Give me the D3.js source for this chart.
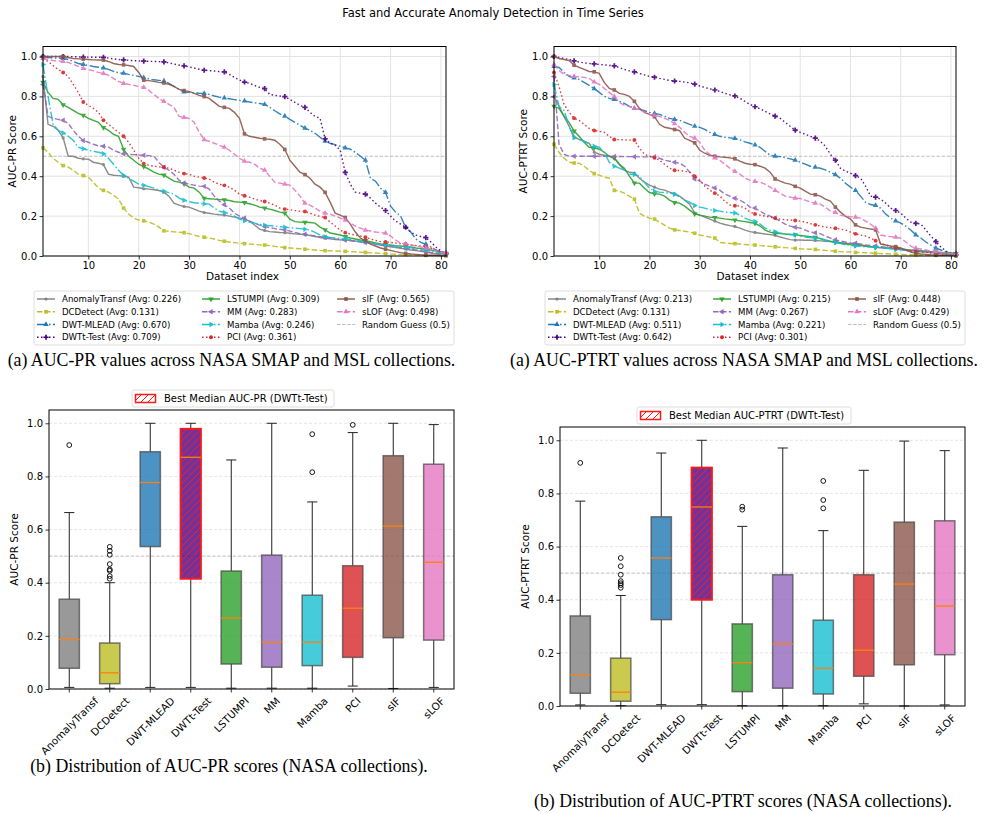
<!DOCTYPE html>
<html>
<head>
<meta charset="utf-8">
<script src="https://cdn.jsdelivr.net/npm/d3@7"></script>
<style>
  body { margin: 0; background: #fff; }
  svg text { font-family: "DejaVu Sans", sans-serif; fill: #000; }
  svg text.caption { font-family: "Liberation Serif", "Times New Roman", serif; }
</style>
</head>
<body>
<svg id="fig" width="986" height="813"></svg>
<script>
// ---------- Data ----------
var methods = ["AnomalyTransf", "DCDetect", "DWT-MLEAD", "DWTt-Test", "LSTUMPI",
  "MM", "Mamba", "PCI", "sIF", "sLOF"];

var xTickValues = [10, 20, 30, 40, 50, 60, 70, 80];
var yTickValues = [0, 0.2, 0.4, 0.6, 0.8, 1.0];
var randomGuess = 0.5;

// average scores shown in the legends
var prAvg = [0.226, 0.131, 0.670, 0.709, 0.309, 0.283, 0.246, 0.361, 0.565, 0.498];
var ptAvg = [0.213, 0.131, 0.511, 0.642, 0.215, 0.267, 0.221, 0.301, 0.448, 0.429];

// AUC-PR per dataset, sorted descending (81 datasets)
var prAnomalyTransf = [0.9,0.66,0.65,0.63, 0.592,0.5,0.5,0.49, 0.487,0.485,0.47,0.465,
  0.458,0.41,0.405,0.403, 0.4,0.395,0.345,0.342, 0.337,0.335,0.332,0.328, 0.32,0.3,0.265,0.255,
  0.248,0.245,0.235,0.225, 0.218,0.214,0.21,0.207, 0.205,0.2,0.195,0.19, 0.185,0.175,0.155,0.135,
  0.128,0.122,0.12,0.118, 0.117,0.114,0.111,0.109, 0.107,0.103,0.098,0.093, 0.089,0.086,0.083,0.081,
  0.08,0.078,0.075,0.072, 0.07,0.066,0.06,0.055, 0.05,0.046,0.042,0.038, 0.035,0.03,0.027,0.023,
  0.02,0.015,0.01,0.007, 0.005];
var prDCDetect = [0.542,0.52,0.49,0.47, 0.453,0.445,0.43,0.41, 0.403,0.395,0.37,0.34,
  0.329,0.32,0.305,0.285, 0.24,0.21,0.19,0.18, 0.176,0.17,0.16,0.145, 0.126,0.124,0.121,0.119,
  0.117,0.112,0.105,0.098, 0.094,0.09,0.085,0.078, 0.074,0.07,0.067,0.064, 0.062,0.06,0.058,0.056,
  0.055,0.052,0.048,0.045, 0.042,0.04,0.038,0.036, 0.034,0.032,0.03,0.028, 0.027,0.026,0.025,0.024,
  0.023,0.022,0.02,0.019, 0.018,0.016,0.015,0.013, 0.012,0.01,0.009,0.008, 0.007,0.006,0.005,0.004,
  0.003,0.003,0.002,0.002, 0.002];
var prDWTMLEAD = [1.0,0.995,0.993,0.992, 0.99,0.985,0.975,0.965, 0.96,0.955,0.95,0.946,
  0.943,0.935,0.925,0.918, 0.916,0.91,0.905,0.9, 0.894,0.888,0.883,0.88, 0.877,0.865,0.85,0.835,
  0.822,0.82,0.818,0.816, 0.815,0.81,0.802,0.796, 0.792,0.788,0.784,0.78, 0.777,0.772,0.768,0.764,
  0.76,0.745,0.728,0.712, 0.701,0.685,0.67,0.655, 0.641,0.63,0.615,0.595, 0.576,0.565,0.558,0.55,
  0.542,0.535,0.52,0.5, 0.48,0.39,0.375,0.34, 0.319,0.25,0.22,0.2, 0.143,0.12,0.085,0.068,
  0.059,0.045,0.03,0.02, 0.013];
var prDWTtTest = [1.0,1.0,1.0,1.0, 1.0,1.0,0.999,0.998, 0.997,0.997,0.996,0.996,
  0.996,0.992,0.988,0.985, 0.983,0.981,0.979,0.978, 0.977,0.976,0.975,0.974, 0.973,0.968,0.962,0.957,
  0.953,0.948,0.942,0.936, 0.931,0.929,0.927,0.925, 0.923,0.91,0.895,0.882, 0.872,0.865,0.855,0.845,
  0.839,0.81,0.805,0.802, 0.799,0.785,0.77,0.755, 0.745,0.72,0.7,0.69, 0.587,0.565,0.555,0.53,
  0.419,0.36,0.32,0.315, 0.31,0.29,0.265,0.245, 0.228,0.2,0.175,0.16, 0.144,0.12,0.105,0.098,
  0.092,0.07,0.045,0.025, 0.013];
var prLSTUMPI = [0.87,0.82,0.79,0.785, 0.758,0.745,0.73,0.715, 0.705,0.69,0.68,0.67,
  0.643,0.63,0.61,0.6, 0.534,0.5,0.48,0.46, 0.448,0.435,0.42,0.41, 0.406,0.39,0.375,0.37,
  0.362,0.345,0.34,0.32, 0.289,0.287,0.285,0.283, 0.282,0.278,0.272,0.27, 0.268,0.262,0.255,0.245,
  0.24,0.235,0.228,0.22, 0.215,0.185,0.172,0.17, 0.169,0.168,0.165,0.145, 0.131,0.115,0.11,0.105,
  0.097,0.09,0.085,0.08, 0.077,0.072,0.065,0.06, 0.057,0.055,0.052,0.05, 0.047,0.045,0.04,0.037,
  0.034,0.03,0.025,0.02, 0.013];
var prMM = [0.86,0.7,0.69,0.685, 0.68,0.665,0.63,0.6, 0.579,0.57,0.56,0.552,
  0.55,0.545,0.53,0.52, 0.513,0.51,0.508,0.506, 0.505,0.503,0.5,0.47, 0.445,0.43,0.41,0.38,
  0.366,0.36,0.355,0.35, 0.349,0.335,0.3,0.275, 0.257,0.24,0.215,0.2, 0.19,0.175,0.165,0.155,
  0.148,0.142,0.137,0.134, 0.131,0.125,0.118,0.112, 0.109,0.105,0.1,0.097, 0.094,0.09,0.086,0.083,
  0.08,0.077,0.073,0.07, 0.067,0.064,0.061,0.058, 0.054,0.05,0.046,0.042, 0.039,0.035,0.03,0.026,
  0.022,0.018,0.014,0.011, 0.008];
var prMamba = [0.96,0.8,0.66,0.63, 0.617,0.6,0.58,0.545, 0.537,0.53,0.525,0.52,
  0.513,0.49,0.46,0.43, 0.403,0.39,0.375,0.36, 0.354,0.348,0.34,0.33, 0.324,0.318,0.31,0.29,
  0.279,0.272,0.267,0.264, 0.262,0.26,0.24,0.225, 0.218,0.212,0.2,0.185, 0.176,0.17,0.165,0.158,
  0.154,0.152,0.15,0.147, 0.144,0.142,0.14,0.137, 0.134,0.13,0.118,0.105, 0.097,0.093,0.09,0.088,
  0.086,0.082,0.078,0.074, 0.07,0.066,0.062,0.058, 0.055,0.052,0.049,0.046, 0.044,0.041,0.037,0.033,
  0.03,0.026,0.02,0.015, 0.01];
var prPCI = [0.99,0.975,0.955,0.935, 0.92,0.9,0.86,0.82, 0.772,0.755,0.74,0.72,
  0.68,0.66,0.64,0.62, 0.6,0.57,0.53,0.49, 0.463,0.455,0.45,0.447, 0.445,0.44,0.43,0.42,
  0.413,0.41,0.4,0.395, 0.391,0.385,0.37,0.36, 0.354,0.345,0.33,0.31, 0.302,0.295,0.285,0.278,
  0.273,0.265,0.255,0.24, 0.235,0.232,0.228,0.225, 0.223,0.215,0.205,0.198, 0.193,0.17,0.15,0.13,
  0.117,0.11,0.105,0.1, 0.094,0.085,0.078,0.072, 0.07,0.068,0.065,0.062, 0.06,0.055,0.052,0.05,
  0.047,0.04,0.03,0.02, 0.013];
var prSIF = [1.0,1.0,1.0,1.0, 1.0,0.995,0.99,0.988, 0.987,0.985,0.983,0.982,
  0.982,0.975,0.965,0.96, 0.958,0.955,0.95,0.92, 0.881,0.879,0.875,0.87, 0.867,0.86,0.85,0.835,
  0.829,0.825,0.815,0.805, 0.799,0.79,0.77,0.75, 0.745,0.74,0.72,0.69, 0.612,0.6,0.595,0.59,
  0.587,0.585,0.58,0.56, 0.534,0.48,0.45,0.42, 0.408,0.39,0.36,0.345, 0.319,0.27,0.215,0.205,
  0.193,0.16,0.12,0.09, 0.076,0.06,0.05,0.04, 0.034,0.028,0.022,0.017, 0.013,0.01,0.008,0.006,
  0.005,0.004,0.003,0.002, 0.002];
var prSLOF = [0.99,0.985,0.98,0.978, 0.975,0.97,0.96,0.95, 0.94,0.935,0.928,0.92,
  0.915,0.905,0.89,0.875, 0.865,0.86,0.855,0.85, 0.845,0.83,0.81,0.79, 0.775,0.76,0.745,0.7,
  0.695,0.69,0.67,0.62, 0.583,0.575,0.565,0.555, 0.545,0.53,0.51,0.49, 0.475,0.47,0.46,0.44,
  0.43,0.4,0.37,0.365, 0.36,0.355,0.33,0.3, 0.265,0.255,0.24,0.225, 0.215,0.21,0.2,0.19,
  0.18,0.165,0.15,0.14, 0.13,0.125,0.12,0.118, 0.115,0.1,0.08,0.065, 0.06,0.055,0.05,0.045,
  0.04,0.035,0.028,0.02, 0.015];

// AUC-PTRT per dataset, sorted descending
var ptAnomalyTransf = [0.8,0.75,0.7,0.65, 0.597,0.585,0.575,0.565, 0.52,0.51,0.505,0.5,
  0.49,0.46,0.43,0.42, 0.416,0.39,0.37,0.355, 0.345,0.335,0.33,0.32, 0.312,0.3,0.28,0.26,
  0.215,0.205,0.195,0.185, 0.175,0.165,0.158,0.152, 0.148,0.14,0.13,0.122, 0.118,0.114,0.11,0.107,
  0.104,0.095,0.088,0.082, 0.08,0.08,0.079,0.079, 0.078,0.076,0.074,0.072, 0.07,0.067,0.064,0.062,
  0.06,0.056,0.052,0.048, 0.045,0.042,0.04,0.037, 0.035,0.032,0.03,0.027, 0.025,0.022,0.02,0.017,
  0.015,0.012,0.01,0.008, 0.005];
var ptDCDetect = [0.56,0.52,0.49,0.47, 0.466,0.465,0.45,0.43, 0.413,0.405,0.395,0.39,
  0.329,0.325,0.315,0.3, 0.285,0.215,0.2,0.19, 0.185,0.17,0.155,0.14, 0.131,0.128,0.124,0.12,
  0.114,0.105,0.1,0.095, 0.09,0.068,0.065,0.063, 0.062,0.06,0.058,0.056, 0.055,0.052,0.05,0.048,
  0.046,0.044,0.042,0.04, 0.038,0.036,0.035,0.034, 0.033,0.03,0.028,0.026, 0.024,0.022,0.021,0.02,
  0.018,0.017,0.016,0.015, 0.014,0.012,0.011,0.01, 0.009,0.008,0.007,0.006, 0.005,0.004,0.004,0.004,
  0.003,0.003,0.003,0.002, 0.002];
var ptDWTMLEAD = [0.95,0.945,0.92,0.9, 0.893,0.885,0.87,0.855, 0.839,0.82,0.8,0.79,
  0.785,0.775,0.765,0.75, 0.74,0.735,0.728,0.72, 0.715,0.71,0.7,0.69, 0.685,0.68,0.67,0.66,
  0.651,0.645,0.635,0.62, 0.609,0.6,0.595,0.592, 0.589,0.582,0.572,0.565, 0.557,0.545,0.525,0.505,
  0.5,0.498,0.493,0.487, 0.48,0.47,0.46,0.45, 0.445,0.44,0.432,0.42, 0.408,0.39,0.365,0.345,
  0.329,0.3,0.27,0.258, 0.253,0.24,0.21,0.19, 0.176,0.165,0.15,0.13, 0.106,0.09,0.07,0.055,
  0.039,0.03,0.02,0.015, 0.013];
var ptDWTtTest = [1.0,0.995,0.99,0.985, 0.978,0.972,0.968,0.965, 0.963,0.96,0.958,0.955,
  0.953,0.945,0.935,0.928, 0.923,0.915,0.908,0.9, 0.896,0.89,0.885,0.88, 0.877,0.875,0.872,0.868,
  0.861,0.852,0.845,0.838, 0.832,0.825,0.815,0.808, 0.802,0.79,0.775,0.76, 0.748,0.738,0.725,0.712,
  0.701,0.69,0.67,0.65, 0.631,0.62,0.61,0.6, 0.591,0.575,0.55,0.51, 0.48,0.44,0.425,0.415,
  0.403,0.39,0.35,0.3, 0.295,0.285,0.265,0.24, 0.228,0.215,0.19,0.17, 0.164,0.16,0.13,0.1,
  0.072,0.045,0.025,0.012, 0.005];
var ptLSTUMPI = [0.75,0.74,0.7,0.67, 0.626,0.6,0.57,0.545, 0.542,0.535,0.52,0.5,
  0.492,0.46,0.44,0.4, 0.366,0.365,0.34,0.318, 0.312,0.31,0.3,0.28, 0.268,0.265,0.25,0.23,
  0.211,0.205,0.2,0.195, 0.193,0.19,0.186,0.183, 0.18,0.176,0.172,0.168, 0.164,0.15,0.13,0.12,
  0.114,0.112,0.11,0.108, 0.106,0.103,0.1,0.097, 0.094,0.088,0.08,0.074, 0.07,0.065,0.06,0.057,
  0.055,0.052,0.049,0.046, 0.044,0.042,0.04,0.038, 0.036,0.034,0.032,0.03, 0.028,0.026,0.024,0.022,
  0.02,0.018,0.016,0.014, 0.012];
var ptMM = [0.9,0.56,0.51,0.5, 0.5,0.5,0.5,0.5, 0.5,0.5,0.5,0.499,
  0.499,0.499,0.498,0.498, 0.498,0.497,0.497,0.497, 0.497,0.49,0.48,0.475, 0.47,0.465,0.45,0.42,
  0.386,0.375,0.36,0.35, 0.341,0.33,0.31,0.3, 0.29,0.28,0.265,0.245, 0.24,0.225,0.21,0.2,
  0.19,0.175,0.16,0.15, 0.144,0.14,0.13,0.12, 0.117,0.112,0.1,0.09, 0.081,0.075,0.07,0.066,
  0.064,0.06,0.056,0.053, 0.05,0.047,0.044,0.041, 0.039,0.036,0.033,0.03, 0.027,0.024,0.022,0.02,
  0.018,0.015,0.01,0.007, 0.005];
var ptMamba = [0.86,0.75,0.73,0.65, 0.592,0.585,0.575,0.56, 0.55,0.545,0.52,0.47,
  0.45,0.44,0.43,0.41, 0.408,0.4,0.37,0.34, 0.324,0.32,0.318,0.315, 0.31,0.295,0.28,0.27,
  0.253,0.245,0.24,0.232, 0.228,0.225,0.22,0.218, 0.215,0.205,0.19,0.18, 0.173,0.16,0.14,0.13,
  0.122,0.115,0.11,0.108, 0.106,0.1,0.095,0.092, 0.089,0.085,0.078,0.072, 0.067,0.062,0.057,0.053,
  0.05,0.048,0.046,0.045, 0.044,0.041,0.039,0.036, 0.034,0.031,0.028,0.025, 0.023,0.021,0.02,0.018,
  0.017,0.014,0.01,0.007, 0.005];
var ptPCI = [0.92,0.85,0.76,0.72, 0.691,0.68,0.66,0.64, 0.629,0.625,0.62,0.6,
  0.584,0.583,0.582,0.581, 0.581,0.54,0.51,0.5, 0.492,0.48,0.46,0.44, 0.43,0.428,0.425,0.42,
  0.4,0.38,0.35,0.33, 0.315,0.3,0.275,0.255, 0.252,0.25,0.24,0.22, 0.211,0.205,0.2,0.195,
  0.19,0.185,0.182,0.18, 0.178,0.175,0.17,0.162, 0.156,0.15,0.145,0.142, 0.139,0.135,0.13,0.12,
  0.111,0.105,0.1,0.09, 0.077,0.065,0.055,0.045, 0.04,0.035,0.03,0.025, 0.022,0.02,0.018,0.015,
  0.013,0.01,0.008,0.006, 0.005];
var ptSIF = [1.0,0.99,0.985,0.98, 0.956,0.945,0.935,0.925, 0.923,0.915,0.87,0.84,
  0.832,0.815,0.81,0.8, 0.775,0.74,0.72,0.71, 0.698,0.66,0.645,0.64, 0.634,0.628,0.59,0.58,
  0.567,0.53,0.515,0.505, 0.5,0.497,0.495,0.492, 0.487,0.475,0.465,0.46, 0.458,0.45,0.44,0.42,
  0.386,0.375,0.365,0.36, 0.349,0.34,0.325,0.31, 0.307,0.3,0.285,0.275, 0.245,0.22,0.2,0.185,
  0.156,0.145,0.14,0.135, 0.131,0.06,0.055,0.05, 0.047,0.04,0.03,0.02, 0.013,0.01,0.008,0.006,
  0.005,0.004,0.003,0.003, 0.003];
var ptSLOF = [0.96,0.93,0.91,0.905, 0.9,0.898,0.895,0.89, 0.872,0.86,0.84,0.82,
  0.8,0.77,0.755,0.75, 0.74,0.735,0.72,0.71, 0.705,0.7,0.69,0.68, 0.663,0.645,0.62,0.6,
  0.591,0.57,0.53,0.51, 0.492,0.48,0.46,0.44, 0.424,0.41,0.39,0.38, 0.374,0.37,0.36,0.345,
  0.329,0.315,0.3,0.295, 0.29,0.288,0.28,0.27, 0.265,0.26,0.245,0.225, 0.218,0.205,0.2,0.197,
  0.195,0.19,0.175,0.16, 0.139,0.105,0.1,0.097, 0.094,0.09,0.07,0.05, 0.039,0.035,0.03,0.025,
  0.022,0.018,0.015,0.012, 0.01];

// Box plot statistics (AUC-PR)
var prWhiskLo = [0.006, 0.003, 0.006, 0.006, 0.003, 0.003, 0.003, 0.011, 0.002, 0.006];
var prQ1      = [0.078, 0.020, 0.536, 0.415, 0.094, 0.082, 0.088, 0.119, 0.193, 0.184];
var prMedian  = [0.186, 0.061, 0.777, 0.872, 0.267, 0.176, 0.176, 0.304, 0.613, 0.477];
var prQ3      = [0.338, 0.173, 0.893, 0.979, 0.444, 0.504, 0.353, 0.464, 0.878, 0.846];
var prWhiskHi = [0.664, 0.400, 1.000, 1.000, 0.862, 1.000, 0.704, 0.965, 1.000, 0.995];
var prOutliers = [[0.918], [0.535, 0.52, 0.505, 0.47, 0.45, 0.445, 0.425, 0.415], [], [], [], [],
  [0.959, 0.816], [0.994], [], []];

// Box plot statistics (AUC-PTRT)
var ptWhiskLo = [0.004, 0.001, 0.005, 0.005, 0.001, 0.001, 0.001, 0.008, 0.000, 0.004];
var ptQ1      = [0.048, 0.018, 0.325, 0.400, 0.054, 0.067, 0.045, 0.112, 0.155, 0.193];
var ptMedian  = [0.117, 0.052, 0.557, 0.749, 0.163, 0.234, 0.142, 0.210, 0.459, 0.376];
var ptQ3      = [0.339, 0.180, 0.712, 0.897, 0.309, 0.494, 0.323, 0.494, 0.692, 0.697];
var ptWhiskHi = [0.771, 0.416, 0.952, 1.000, 0.676, 0.971, 0.660, 0.887, 0.997, 0.961];
var ptOutliers = [[0.915], [0.557, 0.526, 0.494, 0.47, 0.462, 0.455, 0.445], [], [], [0.75, 0.739], [],
  [0.847, 0.775, 0.744], [], [], []];

var prSeries = [prAnomalyTransf, prDCDetect, prDWTMLEAD, prDWTtTest, prLSTUMPI, prMM, prMamba, prPCI, prSIF, prSLOF];
var ptSeries = [ptAnomalyTransf, ptDCDetect, ptDWTMLEAD, ptDWTtTest, ptLSTUMPI, ptMM, ptMamba, ptPCI, ptSIF, ptSLOF];

// ---------- Styles ----------
var colors = ["#7f7f7f", "#bcbd22", "#1f77b4", "#4b0082", "#2ca02c", "#9467bd", "#17becf", "#d62728", "#8c564b", "#e377c2"];
var dashes = ["", "5.5,2.4", "9.6,2.4,1.5,2.4", "1.5,2.5", "", "5.5,2.4", "9.6,2.4,1.5,2.4", "1.5,2.5", "", "5.5,2.4"];
var symbols = [d3.symbolCircle, d3.symbolSquare, d3.symbolTriangle, d3.symbolCross, d3.symbolTriangle,
  d3.symbolTriangle, d3.symbolTriangle, d3.symbolCircle, d3.symbolSquare, d3.symbolTriangle];
var symbolRotate = [0, 0, 0, 0, 180, -90, 90, 0, 0, 0];
var symbolSize = [8, 13, 13, 15, 13, 13, 13, 12, 13, 13];

var svg = d3.select("#fig");

// Figure title
svg.append("text")
  .attr("x", 493)
  .attr("y", 17)
  .attr("text-anchor", "middle")
  .attr("font-size", 11.5)
  .text("Fast and Accurate Anomaly Detection in Time Series");

function addMarker(sel, i, x, y) {
  sel.append("path")
    .attr("d", d3.symbol().type(symbols[i]).size(symbolSize[i])())
    .attr("transform", `translate(${x},${y}) rotate(${symbolRotate[i]})`)
    .attr("fill", colors[i]);
}

// ---------- Line panels ----------
function drawLinePanel(box, series, avgs, yLabel, legendBox) {
  var g = svg.append("g");
  var x = d3.scaleLinear().domain([1, 81]).range([box.x0, box.x1]);
  var y = d3.scaleLinear().domain([0, 1.05]).range([box.y1, box.y0]);

  // grid
  g.append("g").selectAll("line").data(xTickValues).enter().append("line")
    .attr("x1", d => x(d)).attr("x2", d => x(d))
    .attr("y1", box.y0).attr("y2", box.y1)
    .attr("stroke", "#e3e3e3").attr("stroke-width", 1);
  g.append("g").selectAll("line").data(yTickValues).enter().append("line")
    .attr("x1", box.x0).attr("x2", box.x1)
    .attr("y1", d => y(d)).attr("y2", d => y(d))
    .attr("stroke", "#e3e3e3").attr("stroke-width", 1);

  // random guess
  g.append("line")
    .attr("x1", box.x0).attr("x2", box.x1)
    .attr("y1", y(randomGuess)).attr("y2", y(randomGuess))
    .attr("stroke", "#b5b5b5").attr("stroke-width", 0.9)
    .attr("stroke-dasharray", "3.5,1.6");

  // lines + markers (every 4th point)
  var line = d3.line().x((d, i) => x(i + 1)).y(d => y(d));
  series.forEach(function(vals, k) {
    var s = g.append("g").attr("opacity", 0.9);
    s.append("path")
      .attr("d", line(vals))
      .attr("fill", "none")
      .attr("stroke", colors[k])
      .attr("stroke-width", 1.4)
      .attr("stroke-dasharray", dashes[k]);
    vals.forEach(function(v, i) {
      if (i % 4 === 0) addMarker(s, k, x(i + 1), y(v));
    });
  });

  // axes
  var bottomAxis = d3.axisBottom(x).tickValues(xTickValues).tickSizeOuter(0).tickSize(3.5).tickPadding(2.5);
  var leftAxis = d3.axisLeft(y).tickValues(yTickValues).tickFormat(d3.format(".1f")).tickSizeOuter(0).tickSize(3.5).tickPadding(2.5);
  var xa = g.append("g").attr("transform", `translate(0, ${box.y1})`).call(bottomAxis);
  var ya = g.append("g").attr("transform", `translate(${box.x0}, 0)`).call(leftAxis);
  [xa, ya].forEach(function(a) {
    a.select(".domain").remove();
    a.selectAll("text").attr("font-size", 10);
    a.selectAll("line").attr("stroke", "#000").attr("stroke-width", 0.8);
  });

  // frame
  g.append("rect")
    .attr("x", box.x0).attr("y", box.y0)
    .attr("width", box.x1 - box.x0).attr("height", box.y1 - box.y0)
    .attr("fill", "none").attr("stroke", "#000").attr("stroke-width", 1);

  // axis labels
  g.append("text")
    .attr("x", (box.x0 + box.x1) / 2 - 2)
    .attr("y", box.y1 + 24)
    .attr("text-anchor", "middle")
    .attr("font-size", 10.5)
    .text("Dataset index");
  g.append("text")
    .attr("transform", `translate(${box.x0 - 27}, ${(box.y0 + box.y1) / 2}) rotate(-90)`)
    .attr("text-anchor", "middle")
    .attr("font-size", 10.5)
    .text(yLabel);

  // legend
  var lg = g.append("g").attr("transform", `translate(${legendBox.x}, ${legendBox.y})`);
  lg.append("rect")
    .attr("width", legendBox.w).attr("height", legendBox.h)
    .attr("rx", 2)
    .attr("fill", "#fff").attr("stroke", "#d6d6d6").attr("stroke-width", 0.8);
  var items = methods.map((m, k) => ({ k: k, label: `${m} (Avg: ${avgs[k].toFixed(3)})` }));
  items.push({ k: -1, label: "Random Guess (0.5)" });
  var colX = [3, 168, 303];
  items.forEach(function(it, n) {
    var col = Math.floor(n / 4), row = n % 4;
    var ly = 8 + row * 12.75;
    var lx = colX[col];
    if (it.k >= 0) {
      lg.append("line")
        .attr("x1", lx).attr("x2", lx + 18)
        .attr("y1", ly).attr("y2", ly)
        .attr("stroke", colors[it.k]).attr("stroke-width", 1.4)
        .attr("stroke-dasharray", dashes[it.k]);
      addMarker(lg, it.k, lx + 9, ly);
    } else {
      lg.append("line")
        .attr("x1", lx).attr("x2", lx + 18)
        .attr("y1", ly).attr("y2", ly)
        .attr("stroke", "#b5b5b5").attr("stroke-width", 0.9)
        .attr("stroke-dasharray", "3.5,1.6");
    }
    lg.append("text")
      .attr("x", lx + 25)
      .attr("y", ly + 3.1)
      .attr("font-size", 8.6)
      .text(it.label);
  });
}

drawLinePanel({ x0: 43, x1: 446, y0: 46.5, y1: 256 }, prSeries, prAvg, "AUC-PR Score",
  { x: 34, y: 291, w: 420, h: 54 });
drawLinePanel({ x0: 554, x1: 956, y0: 46.5, y1: 256 }, ptSeries, ptAvg, "AUC-PTRT Score",
  { x: 545, y: 291, w: 420, h: 54 });

// ---------- Box plot panels ----------
var defs = svg.append("defs");
defs.append("pattern")
  .attr("id", "hatch")
  .attr("patternUnits", "userSpaceOnUse")
  .attr("width", 7).attr("height", 7)
  .append("path")
  .attr("d", "M0,7 L7,0 M-1,1 L1,-1 M6,8 L8,6")
  .attr("stroke", "#ff1a1a").attr("stroke-width", 1);

function drawBoxPanel(box, stats, yLabel, legendBox, legendText) {
  var g = svg.append("g");
  var x = d3.scaleBand().domain(methods).range([box.x0, box.x1]).padding(0);
  var y = d3.scaleLinear().domain([0, 1.05]).range([box.y1, box.y0]);
  var bw = x.bandwidth() * 0.5;
  var best = 3; // DWTt-Test

  // grid
  g.append("g").selectAll("line").data(yTickValues).enter().append("line")
    .attr("x1", box.x0).attr("x2", box.x1)
    .attr("y1", d => y(d)).attr("y2", d => y(d))
    .attr("stroke", "#e0e0e0").attr("stroke-width", 0.8)
    .attr("stroke-dasharray", "3,2");
  g.append("line")
    .attr("x1", box.x0).attr("x2", box.x1)
    .attr("y1", y(randomGuess)).attr("y2", y(randomGuess))
    .attr("stroke", "#b5b5b5").attr("stroke-width", 0.9)
    .attr("stroke-dasharray", "3.5,1.6");

  methods.forEach(function(m, k) {
    var cx = x(m) + x.bandwidth() / 2;
    var wc = "#222";
    // whiskers
    g.append("line").attr("x1", cx).attr("x2", cx)
      .attr("y1", y(stats.q3[k])).attr("y2", y(stats.hi[k]))
      .attr("stroke", wc).attr("stroke-width", 1);
    g.append("line").attr("x1", cx).attr("x2", cx)
      .attr("y1", y(stats.q1[k])).attr("y2", y(stats.lo[k]))
      .attr("stroke", wc).attr("stroke-width", 1);
    // caps
    [stats.hi[k], stats.lo[k]].forEach(function(v) {
      g.append("line").attr("x1", cx - bw / 4).attr("x2", cx + bw / 4)
        .attr("y1", y(v)).attr("y2", y(v))
        .attr("stroke", wc).attr("stroke-width", 1);
    });
    // box
    g.append("rect")
      .attr("x", cx - bw / 2).attr("y", y(stats.q3[k]))
      .attr("width", bw).attr("height", y(stats.q1[k]) - y(stats.q3[k]))
      .attr("fill", colors[k]).attr("fill-opacity", 0.8)
      .attr("stroke", k === best ? "none" : "#444").attr("stroke-opacity", 0.7)
      .attr("stroke-width", 1.5);
    if (k === best) {
      g.append("rect")
        .attr("x", cx - bw / 2).attr("y", y(stats.q3[k]))
        .attr("width", bw).attr("height", y(stats.q1[k]) - y(stats.q3[k]))
        .attr("fill", "url(#hatch)")
        .attr("stroke", "#ee1c25").attr("stroke-width", 2);
    }
    // median
    g.append("line").attr("x1", cx - bw / 2).attr("x2", cx + bw / 2)
      .attr("y1", y(stats.med[k])).attr("y2", y(stats.med[k]))
      .attr("stroke", "#ff7f0e").attr("stroke-width", 1.3);
    // outliers
    g.selectAll(null).data(stats.out[k]).enter().append("circle")
      .attr("cx", cx).attr("cy", d => y(d)).attr("r", 2.4)
      .attr("fill", "none").attr("stroke", "#000").attr("stroke-width", 0.9);
  });

  // axes
  var leftAxis = d3.axisLeft(y).tickValues(yTickValues).tickFormat(d3.format(".1f")).tickSizeOuter(0).tickSize(3.5).tickPadding(2.5);
  var ya = g.append("g").attr("transform", `translate(${box.x0}, 0)`).call(leftAxis);
  ya.select(".domain").remove();
  ya.selectAll("text").attr("font-size", 10);
  ya.selectAll("line").attr("stroke", "#000").attr("stroke-width", 0.8);

  var xa = g.append("g");
  methods.forEach(function(m) {
    var cx = x(m) + x.bandwidth() / 2;
    xa.append("line").attr("x1", cx).attr("x2", cx)
      .attr("y1", box.y1).attr("y2", box.y1 + 3.5)
      .attr("stroke", "#000").attr("stroke-width", 0.8);
    var t = xa.append("text")
      .attr("text-anchor", "middle")
      .attr("dominant-baseline", "central")
      .attr("font-size", 10.3)
      .text(m);
    var w = t.node().getComputedTextLength();
    var bh = (w + 11) * Math.SQRT1_2;
    t.attr("transform", `translate(${cx}, ${box.y1 + 6 + bh / 2}) rotate(-45)`);
  });

  g.append("rect")
    .attr("x", box.x0).attr("y", box.y0)
    .attr("width", box.x1 - box.x0).attr("height", box.y1 - box.y0)
    .attr("fill", "none").attr("stroke", "#000").attr("stroke-width", 1);

  g.append("text")
    .attr("transform", `translate(${box.x0 - 31}, ${(box.y0 + box.y1) / 2}) rotate(-90)`)
    .attr("text-anchor", "middle")
    .attr("font-size", 10.5)
    .text(yLabel);

  // legend for best median
  var lg = g.append("g").attr("transform", `translate(${legendBox.x}, ${legendBox.y})`);
  lg.append("rect")
    .attr("width", legendBox.w).attr("height", 17)
    .attr("rx", 2)
    .attr("fill", "#fff").attr("stroke", "#d6d6d6").attr("stroke-width", 0.8);
  lg.append("rect")
    .attr("x", 3.5).attr("y", 4.5).attr("width", 20).attr("height", 8)
    .attr("fill", "url(#hatch)")
    .attr("stroke", "#ff1a1a").attr("stroke-width", 1.5);
  lg.append("text")
    .attr("x", 32).attr("y", 12)
    .attr("font-size", 10)
    .text(legendText);
}

drawBoxPanel({ x0: 49, x1: 454, y0: 410, y1: 689 },
  { lo: prWhiskLo, q1: prQ1, med: prMedian, q3: prQ3, hi: prWhiskHi, out: prOutliers },
  "AUC-PR Score", { x: 132, y: 390, w: 202 }, "Best Median AUC-PR (DWTt-Test)");
drawBoxPanel({ x0: 560, x1: 965, y0: 427, y1: 706 },
  { lo: ptWhiskLo, q1: ptQ1, med: ptMedian, q3: ptQ3, hi: ptWhiskHi, out: ptOutliers },
  "AUC-PTRT Score", { x: 637, y: 407, w: 214 }, "Best Median AUC-PTRT (DWTt-Test)");

// ---------- Captions ----------
var captions = [
  { x: 231.5, y: 366, t: "(a) AUC-PR values across NASA SMAP and MSL collections." },
  { x: 744, y: 366, t: "(a) AUC-PTRT values across NASA SMAP and MSL collections." },
  { x: 229, y: 772, t: "(b) Distribution of AUC-PR scores (NASA collections)." },
  { x: 743, y: 807, t: "(b) Distribution of AUC-PTRT scores (NASA collections)." }
];
svg.selectAll(null).data(captions).enter().append("text")
  .classed("caption", true)
  .attr("x", d => d.x)
  .attr("y", d => d.y)
  .attr("text-anchor", "middle")
  .attr("font-size", 17.8)
  .text(d => d.t);
</script>
</body>
</html>
